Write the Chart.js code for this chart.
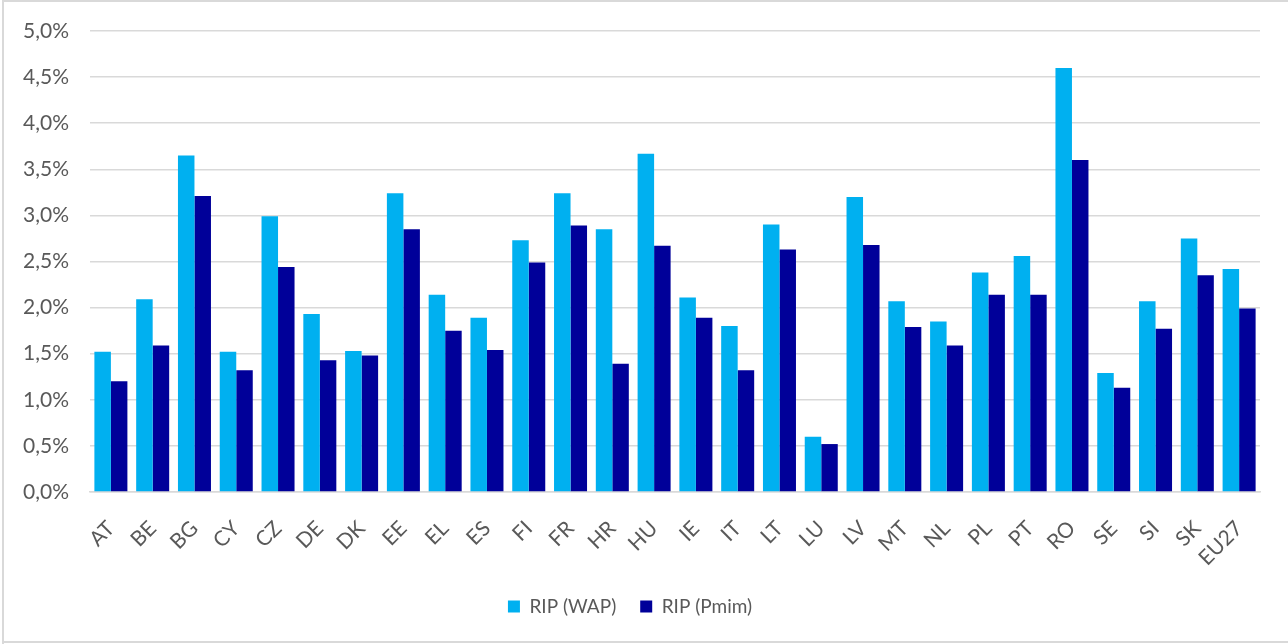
<!DOCTYPE html>
<html>
<head>
<meta charset="utf-8">
<script src="https://cdn.jsdelivr.net/npm/chart.js@4"></script>
<style>
  html, body { margin: 0; padding: 0; background: #ffffff; }
  #wrap { position: relative; width: 1288px; height: 644px; }
</style>
</head>
<body>
<div id="wrap"><canvas id="c" width="1288" height="644"></canvas></div>
<script>
const countries = ['AT','BE','BG','CY','CZ','DE','DK','EE','EL','ES','FI','FR','HR','HU','IE','IT','LT','LU','LV','MT','NL','PL','PT','RO','SE','SI','SK','EU27'];
const ripWap  = [1.52,2.09,3.65,1.52,2.99,1.93,1.53,3.24,2.14,1.89,2.73,3.24,2.85,3.67,2.11,1.80,2.90,0.60,3.20,2.07,1.85,2.38,2.56,4.60,1.29,2.07,2.75,2.42];
const ripPmim = [1.20,1.59,3.21,1.32,2.44,1.43,1.48,2.85,1.75,1.54,2.49,2.89,1.39,2.67,1.89,1.32,2.63,0.52,2.68,1.79,1.59,2.14,2.14,3.60,1.13,1.77,2.35,1.99];
const yTicks  = [0,0.5,1.0,1.5,2.0,2.5,3.0,3.5,4.0,4.5,5.0];

const FONT = 'Lato, "Open Sans", sans-serif';
const TEXT = '#595959';

// white page with the light frame on the left, top and bottom
const frame = {
  id: 'frame',
  beforeDraw(chart) {
    const ctx = chart.ctx;
    ctx.save();
    ctx.fillStyle = '#ffffff';
    ctx.fillRect(0, 0, chart.width, chart.height);
    ctx.fillStyle = '#d9d9d9';
    ctx.fillRect(2, 0, 2, chart.height);
    ctx.fillRect(2, 0, chart.width - 2, 2);
    ctx.fillRect(2, chart.height - 3, chart.width - 2, 2);
    ctx.restore();
  }
};

new Chart(document.getElementById('c'), {
  type: 'bar',
  data: {
    labels: countries,
    datasets: [
      { label: 'RIP (WAP)',  data: ripWap,  backgroundColor: '#00B0F0', borderWidth: 0 },
      { label: 'RIP (Pmim)', data: ripPmim, backgroundColor: '#000099', borderWidth: 0 }
    ]
  },
  options: {
    responsive: false,
    animation: false,
    devicePixelRatio: 1,
    datasets: { bar: { categoryPercentage: 0.79, barPercentage: 1.0 } },
    layout: { padding: { left: 0, right: 28, top: 31, bottom: 18 } },
    plugins: {
      legend: {
        position: 'bottom',
        labels: {
          boxWidth: 12, boxHeight: 12, padding: 24,
          color: TEXT, font: { family: FONT, size: 19 }
        }
      },
      tooltip: { enabled: false }
    },
    scales: {
      x: {
        grid: { display: false, drawTicks: false },
        border: { display: true, color: '#d9d9d9', width: 1.5 },
        ticks: {
          color: TEXT, font: { family: FONT, size: 21 },
          minRotation: 45, maxRotation: 45, padding: 24, autoSkip: false
        },
        afterFit(scale) { scale.height = 81; scale.paddingLeft = 0; scale.paddingRight = 0; }
      },
      y: {
        min: 0, max: 5,
        afterBuildTicks(scale) { scale.ticks = yTicks.map(v => ({ value: v })); },
        grid: { color: '#d9d9d9', lineWidth: 1.5, drawTicks: false },
        border: { display: false },
        ticks: {
          color: TEXT, font: { family: FONT, size: 21 }, padding: 21,
          callback: v => v.toFixed(1).replace('.', ',') + '%'
        },
        afterFit(scale) { scale.width = 90; scale.paddingTop = 0; scale.paddingBottom = 0; }
      }
    }
  },
  plugins: [frame]
});
</script>
</body>
</html>
